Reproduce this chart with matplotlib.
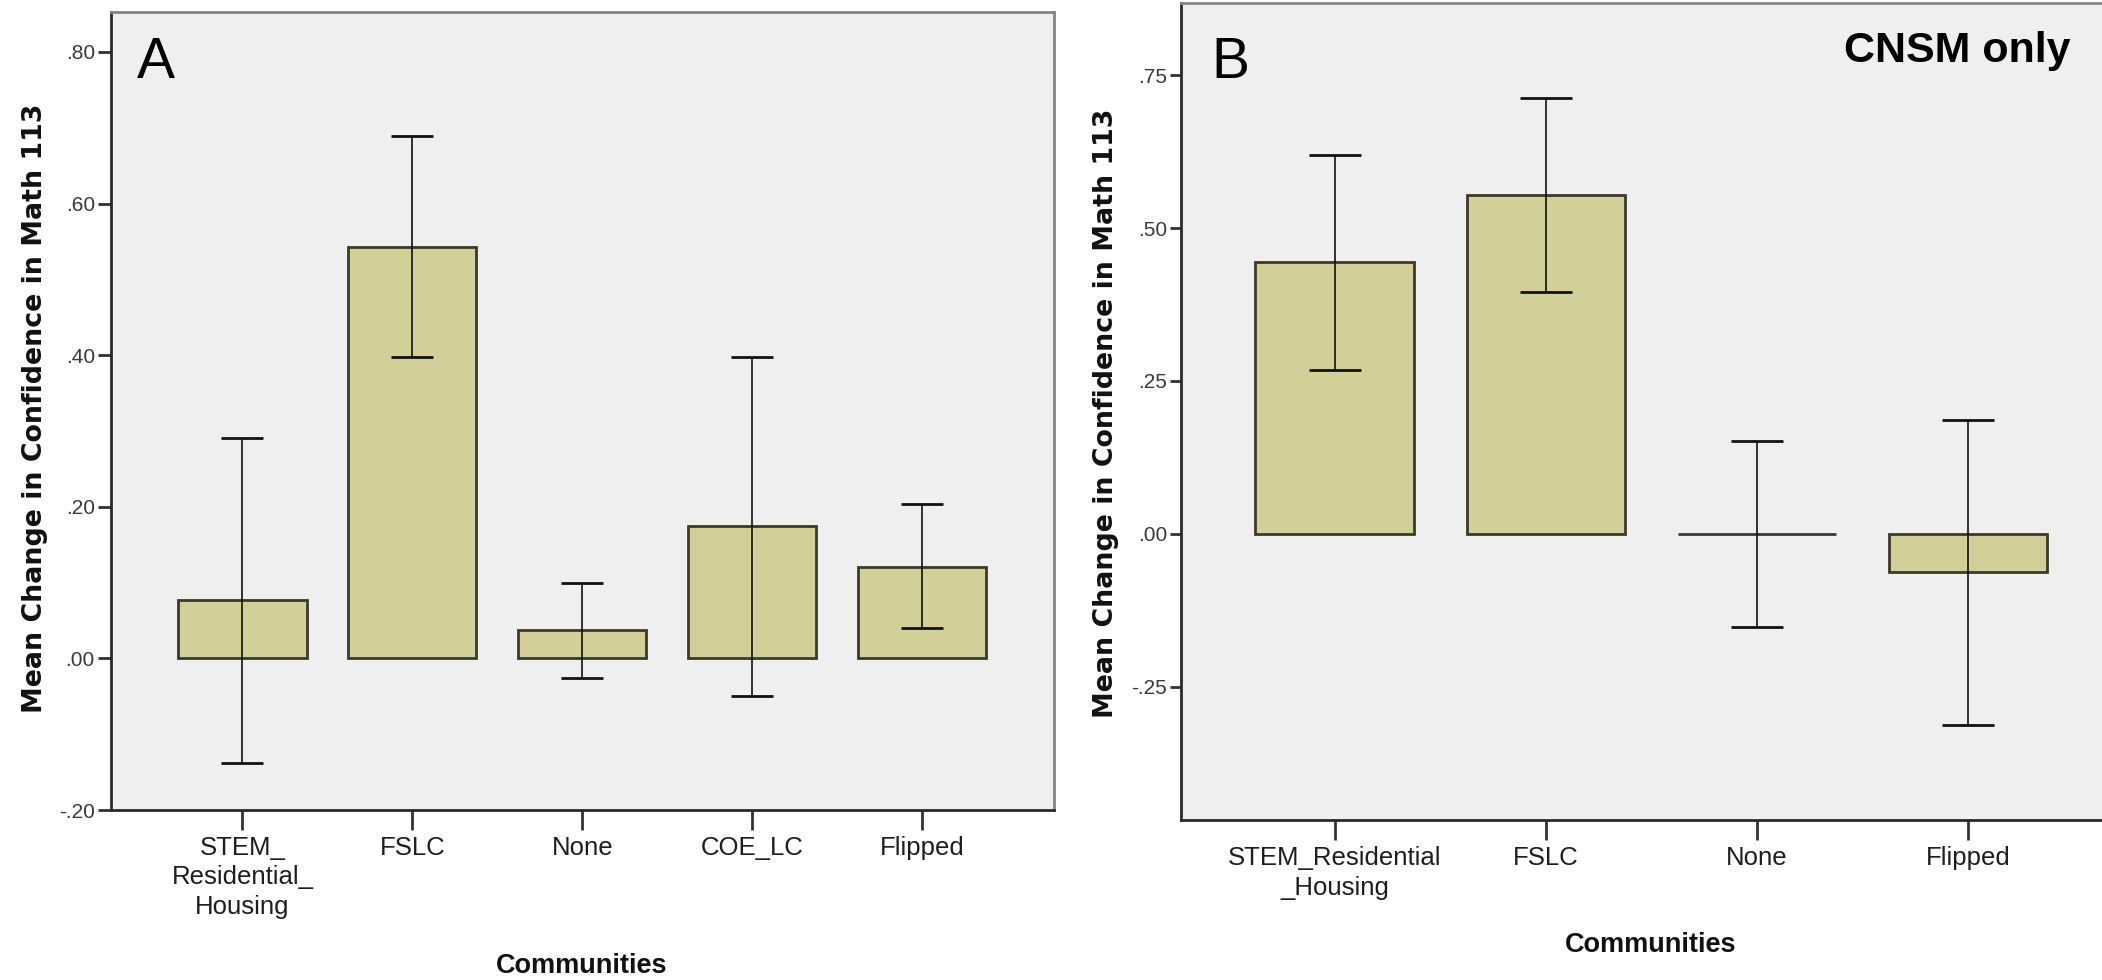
import matplotlib
matplotlib.use('Agg')
import matplotlib.pyplot as plt
from matplotlib.ticker import FuncFormatter, MultipleLocator

# panel A: all students
cats_a = ['STEM_\nResidential_\nHousing', 'FSLC', 'None', 'COE_LC', 'Flipped']
mean_a = [0.077, 0.543, 0.037, 0.175, 0.121]
low_a = [-0.138, 0.397, -0.026, -0.050, 0.040]
high_a = [0.291, 0.689, 0.100, 0.398, 0.203]

# panel B: CNSM only
cats_b = ['STEM_Residential\n_Housing', 'FSLC', 'None', 'Flipped']
mean_b = [0.445, 0.554, 0.0, -0.063]
low_b = [0.268, 0.395, -0.153, -0.313]
high_b = [0.620, 0.712, 0.151, 0.186]

W, H = 2102, 980
sans = ['Liberation Sans', 'DejaVu Sans']
bar_col = '#D3CF99'
edge_col = '#3B3A2A'


def fmt(v, pos):
    s = f'{v:.2f}'
    return s.replace('0.', '.', 1)


def panel(ax, cats, mean, low, high, width, cap, xlim, ylim, step, ytick_len, lsp):
    x = list(range(len(cats)))
    ax.set_facecolor('#EFEFEF')
    ax.bar(x, mean, width=width, color=bar_col, edgecolor=edge_col, linewidth=2.0, zorder=2)
    err = [[m - l for m, l in zip(mean, low)], [h - m for m, h in zip(mean, high)]]
    ax.errorbar(x, mean, yerr=err, fmt='none', ecolor='#111111', elinewidth=1.2,
                capsize=cap, capthick=2.0, zorder=3)
    ax.set_xlim(*xlim)
    ax.set_ylim(*ylim)
    ax.yaxis.set_major_locator(MultipleLocator(step))
    ax.yaxis.set_major_formatter(FuncFormatter(fmt))
    ax.set_xticks(x)
    ax.set_xticklabels(cats, family=sans, fontsize=18.5, color='#1E1E1E', linespacing=lsp)
    for lab in ax.get_yticklabels():
        lab.set_family(sans)
        lab.set_fontsize(15)
        lab.set_color('#3A3A3A')
    ax.tick_params(axis='x', length=14.4, width=2, color='#333333', pad=4)
    ax.tick_params(axis='y', length=ytick_len, width=2, color='#333333', pad=2)
    for s in ['left', 'bottom']:
        ax.spines[s].set_color('#2A2A2A')
        ax.spines[s].set_linewidth(2)
    for s in ['top', 'right']:
        ax.spines[s].set_color('#858585')
        ax.spines[s].set_linewidth(2)


fig = plt.figure(figsize=(W / 100, H / 100), dpi=100)

ax_a = fig.add_axes([110.7 / W, (H - 810) / H, (1054.3 - 110.7) / W, (810 - 11.7) / H])
panel(ax_a, cats_a, mean_a, low_a, high_a, 0.755, 15, (-0.775, 4.778), (-0.2, 0.853), 0.2, 9.4, 1.3)

ax_b = fig.add_axes([1181 / W, (H - 820) / H, (2121.5 - 1181) / W, (820 - 3) / H])
panel(ax_b, cats_b, mean_b, low_b, high_b, 0.749, 19, (-0.727, 3.727), (-0.468, 0.868), 0.25, 8, 1.35)

ylab = 'Mean Change in Confidence in Math 113'
fig.text(35 / W, (H - 408) / H, ylab, rotation=90, ha='center', va='center',
         fontsize=19.3, fontweight='bold', family='DejaVu Sans', color='#111111')
fig.text(1106 / W, (H - 413) / H, ylab, rotation=90, ha='center', va='center',
         fontsize=19.3, fontweight='bold', family='DejaVu Sans', color='#111111')

fig.text(582 / W, (H - 973) / H, 'Communities', ha='center', va='baseline',
         fontsize=19.5, fontweight='bold', family=sans, color='#111111')
fig.text(1651 / W, (H - 952) / H, 'Communities', ha='center', va='baseline',
         fontsize=19.5, fontweight='bold', family=sans, color='#111111')

fig.text(137 / W, (H - 78) / H, 'A', ha='left', va='baseline', fontsize=41,
         family='Liberation Sans', color='black')
fig.text(1211 / W, (H - 78) / H, 'B', ha='left', va='baseline', fontsize=41,
         family='Liberation Sans', color='black')
fig.text(1844 / W, (H - 62) / H, 'CNSM only', ha='left', va='baseline', fontsize=31,
         fontweight='bold', family='Liberation Sans', color='black')

fig.savefig('out.png', dpi=100)
